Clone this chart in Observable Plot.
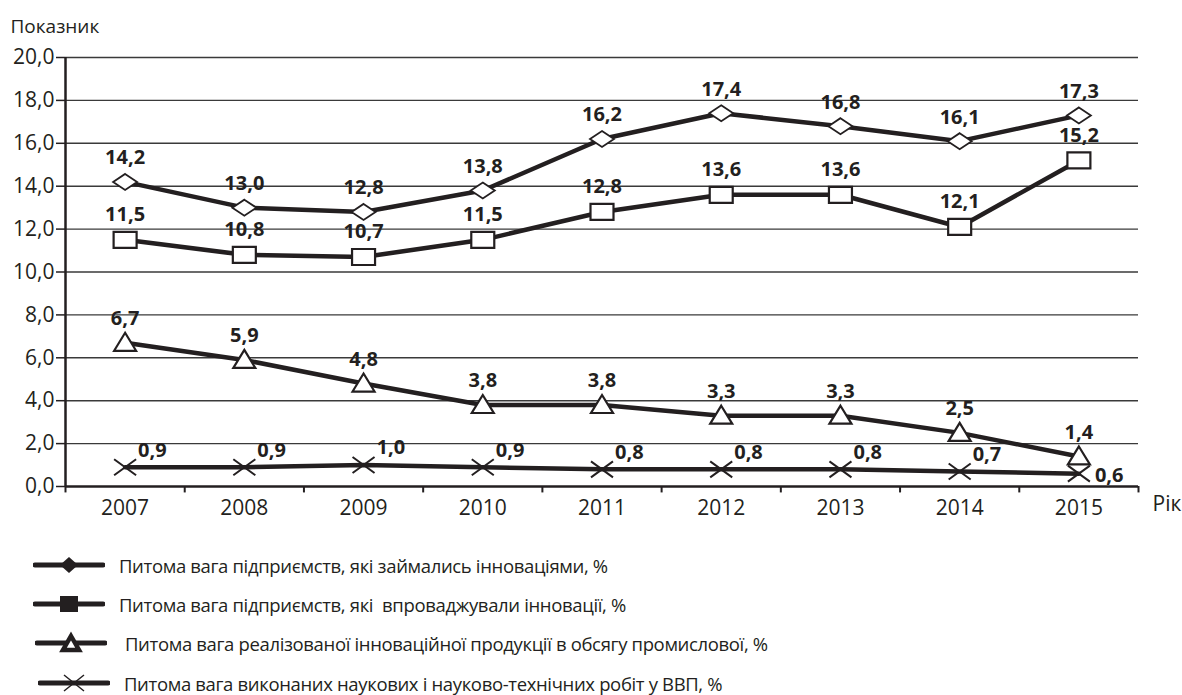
<!DOCTYPE html>
<html>
<head>
<meta charset="utf-8">
<script src="https://cdn.jsdelivr.net/npm/d3@7"></script>
<script src="https://cdn.jsdelivr.net/npm/@observablehq/plot@0.6"></script>
<style>
  html, body { margin: 0; padding: 0; background: #fff; }
  #wrap { position: relative; width: 1182px; height: 695px; font-family: "Open Sans", sans-serif; color: #231f20; }
  #legend { position: absolute; left: 0; top: 0; width: 1182px; }
  .row { position: absolute; left: 33px; height: 24px; display: flex; align-items: center; font-size: 18.5px; letter-spacing: -0.35px; }
</style>
</head>
<body>
<div id="wrap"><div id="chart"></div><div id="legend"></div></div>
<script>
const years = [2007, 2008, 2009, 2010, 2011, 2012, 2013, 2014, 2015];
const innovActive = [14.2, 13.0, 12.8, 13.8, 16.2, 17.4, 16.8, 16.1, 17.3];
const innovImplemented = [11.5, 10.8, 10.7, 11.5, 12.8, 13.6, 13.6, 12.1, 15.2];
const innovProductShare = [6.7, 5.9, 4.8, 3.8, 3.8, 3.3, 3.3, 2.5, 1.4];
const researchShareGDP = [0.9, 0.9, 1.0, 0.9, 0.8, 0.8, 0.8, 0.7, 0.6];
const seriesNames = [
  "Питома вага підприємств, які займались інноваціями, %",
  "Питома вага підприємств, які  впроваджували інновації, %",
  "Питома вага реалізованої інноваційної продукції в обсягу промислової, %",
  "Питома вага виконаних наукових і науково-технічних робіт у ВВП, %"
];
const yTicks = [0, 2, 4, 6, 8, 10, 12, 14, 16, 18, 20];
const yAxisTitle = "Показник";
const xAxisTitle = "Рік";

const ink = "#231f20";
const fmt = v => v.toFixed(1).replace(".", ",");
const rows = (vals) => years.map((year, i) => ({year, value: vals[i]}));
const s1 = rows(innovActive), s2 = rows(innovImplemented), s3 = rows(innovProductShare), s4 = rows(researchShareGDP);
const boundaries = d3.range(years.length + 1).map(i => years[0] - 0.5 + i);

const diamond = {draw(c) { c.moveTo(0, -8); c.lineTo(12, 0); c.lineTo(0, 8); c.lineTo(-12, 0); c.closePath(); }};
const rect = {draw(c) { c.moveTo(-11.5, -8); c.lineTo(11.5, -8); c.lineTo(11.5, 8); c.lineTo(-11.5, 8); c.closePath(); }};
const tri = {draw(c) { c.moveTo(0, -10); c.lineTo(11, 8); c.lineTo(-11, 8); c.closePath(); }};
const cross = {draw(c) { c.moveTo(-11, -8); c.lineTo(11, 8); c.moveTo(11, -8); c.lineTo(-11, 8); }};

const lineOpts = {x: "year", y: "value", stroke: ink, strokeWidth: 4.5, strokeLinejoin: "round"};
const labelOpts = {x: "year", y: "value", text: d => fmt(d.value), fontWeight: "bold", fontSize: 20, fill: ink};

const chart = Plot.plot({
  width: 1182,
  height: 530,
  marginLeft: 65,
  marginRight: 44,
  marginTop: 57,
  marginBottom: 44,
  style: {fontFamily: "'Open Sans', sans-serif", color: ink, background: "white"},
  x: {domain: [boundaries[0], boundaries[boundaries.length - 1]], axis: null},
  y: {domain: [0, 20], axis: null},
  marks: [
    Plot.ruleY(yTicks.slice(1), {stroke: "#3a3a3a", strokeWidth: 1.4}),
    Plot.ruleX(boundaries, {y1: 0, y2: -0.3, stroke: ink, strokeWidth: 2}),
    Plot.ruleY([0], {stroke: ink, strokeWidth: 2.5}),
    Plot.ruleX([boundaries[0]], {stroke: ink, strokeWidth: 2.5}),
    Plot.axisY({ticks: yTicks, tickFormat: fmt, tickSize: 9, tickPadding: 2, fontSize: 21, label: null, stroke: ink, strokeWidth: 1.5}),
    Plot.axisX({ticks: years, tickFormat: d => String(d), tickSize: 0, tickPadding: 14, fontSize: 21, label: null}),
    Plot.text([yAxisTitle], {frameAnchor: "top-left", dx: -55, dy: -38, textAnchor: "start", fontSize: 19}),
    Plot.text([xAxisTitle], {frameAnchor: "bottom-right", dx: 14, dy: 24, textAnchor: "start", fontSize: 21}),
    Plot.line(s4, lineOpts),
    Plot.line(s3, lineOpts),
    Plot.line(s2, lineOpts),
    Plot.line(s1, lineOpts),
    Plot.dot(s1, {x: "year", y: "value", symbol: diamond, fill: "white", stroke: ink, strokeWidth: 1.8, r: 5}),
    Plot.dot(s2, {x: "year", y: "value", symbol: rect, fill: "white", stroke: ink, strokeWidth: 2.2, r: 5}),
    Plot.dot(s3, {x: "year", y: "value", symbol: tri, fill: "white", stroke: ink, strokeWidth: 2.2, r: 5}),
    Plot.dot(s4, {x: "year", y: "value", symbol: cross, fill: "none", stroke: ink, strokeWidth: 2, r: 5}),
    Plot.text(s1, {...labelOpts, dy: -24}),
    Plot.text(s2, {...labelOpts, dy: -25}),
    Plot.text(s3, {...labelOpts, dy: -24}),
    Plot.text(s4.slice(0, -1), {...labelOpts, dx: 13, dy: -17, textAnchor: "start"}),
    Plot.text(s4.slice(-1), {...labelOpts, dx: 16, dy: 2, textAnchor: "start"})
  ]
});
document.getElementById("chart").appendChild(chart);

// Legend
const legendSymbols = [
  `<path d="M0,0L9,-8L18,0L9,8Z" transform="translate(27,12)" fill="${ink}"/>`,
  `<rect x="27" y="4" width="18" height="16" fill="${ink}"/>`,
  `<path d="M36,5L44,19L28,19Z" fill="white" stroke="${ink}" stroke-width="4.5" stroke-linejoin="miter"/>`,
  `<path d="M26,4L46,20M46,4L26,20" stroke="${ink}" stroke-width="1.5"/>`
];
const rowY = [553, 592, 631, 671];
const rowX = [33, 33, 35, 38];
const textGap = [14, 14, 18, 14];
const legend = document.getElementById("legend");
seriesNames.forEach((name, i) => {
  const div = document.createElement("div");
  div.className = "row";
  div.style.top = rowY[i] + "px";
  div.style.left = rowX[i] + "px";
  div.innerHTML = `<svg width="72" height="24" style="margin-right:${textGap[i]}px"><line x1="2" x2="70" y1="12" y2="12" stroke="${ink}" stroke-width="5" stroke-linecap="round"/>${legendSymbols[i]}</svg><span style="white-space:pre">${name}</span>`;
  legend.appendChild(div);
});
</script>
</body>
</html>
